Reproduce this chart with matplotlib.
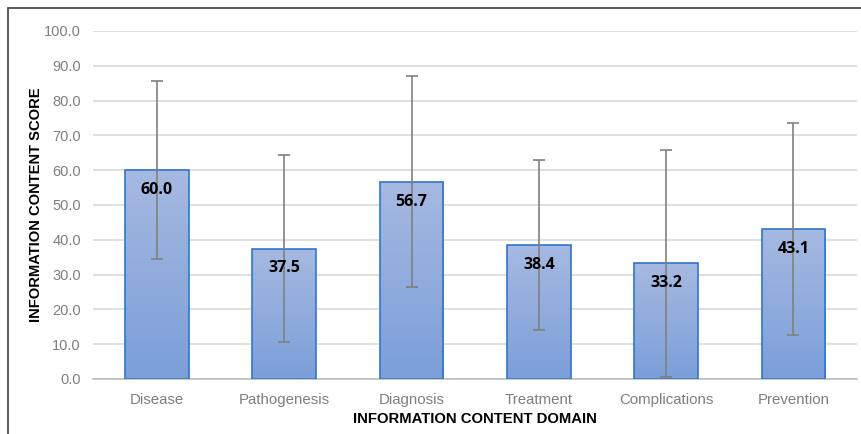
import matplotlib

matplotlib.use("Agg")
import matplotlib.pyplot as plt
import numpy as np
from matplotlib.patches import Rectangle

DOMAINS = ["Disease", "Pathogenesis", "Diagnosis", "Treatment", "Complications", "Prevention"]
SCORES = [60.0, 37.5, 56.7, 38.4, 33.2, 43.1]
SD = [25.6, 26.8, 30.3, 24.4, 32.7, 30.4]
Y_TICKS = [0, 10, 20, 30, 40, 50, 60, 70, 80, 90, 100]

GRID = "#D9D9D9"
TICK_GRAY = "#7F7F7F"
EDGE = "#2F75CC"

fig = plt.figure(figsize=(8.61, 4.34), dpi=100)
ax = fig.add_axes((93.4 / 861, 55 / 434, (857 - 93.4) / 861, 348 / 434))

x = np.arange(len(DOMAINS))
bars = ax.bar(x, SCORES, width=0.5, color="none", edgecolor=EDGE, linewidth=1.2, zorder=3)

# vertical gradient fill clipped to each bar
grad = np.linspace(0, 1, 256).reshape(-1, 1)
cmap = matplotlib.colors.LinearSegmentedColormap.from_list("g", ["#7B9FD9", "#A6B9E1"])
for b in bars:
    x0, y0 = b.get_x(), b.get_y()
    w, h = b.get_width(), b.get_height()
    im = ax.imshow(grad, cmap=cmap, origin="lower", aspect="auto",
                   extent=(x0, x0 + w, y0, y0 + h), zorder=2)
    im.set_clip_path(b)

ax.errorbar(x, SCORES, yerr=SD, fmt="none", ecolor="#808080", elinewidth=1.2,
            capsize=4, capthick=1.2, zorder=4)

for xi, v in zip(x, SCORES):
    ax.text(xi, v - 5.7, f"{v:.1f}", ha="center", va="center", fontsize=11.5,
            fontweight="bold", family="Open Sans", color="black", zorder=5)

ax.set_xlim(-0.5, len(DOMAINS) - 0.5)
ax.set_ylim(0, 100)
ax.set_yticks(Y_TICKS)
ax.set_yticklabels([f"{t:.1f}" for t in Y_TICKS], fontsize=10.5, color=TICK_GRAY,
                   family="Liberation Sans")
ax.set_xticks(x)
ax.set_xticklabels(DOMAINS, fontsize=10.8, color=TICK_GRAY, family="Liberation Sans")
ax.tick_params(length=0, pad=9)
ax.tick_params(axis="x", pad=10)
ax.yaxis.grid(True, color=GRID, linewidth=1.2, zorder=0)
ax.set_axisbelow(True)
for s in ["left", "right", "top"]:
    ax.spines[s].set_visible(False)
ax.spines["bottom"].set_color("#BFBFBF")
ax.spines["bottom"].set_linewidth(1.2)

ax.set_ylabel("INFORMATION CONTENT SCORE", fontsize=10.6, fontweight="bold",
              family="Liberation Sans", labelpad=1)
ax.set_xlabel("INFORMATION CONTENT DOMAIN", fontsize=10.7, fontweight="bold",
              family="Liberation Sans", labelpad=4)

# outer chart border
fig.patches.append(Rectangle((8 / 861, -0.01), 1.0, 1.01 - 8 / 434,
                             transform=fig.transFigure, fill=False,
                             edgecolor="#404040", linewidth=1.2))

fig.savefig("out.png", dpi=100)
